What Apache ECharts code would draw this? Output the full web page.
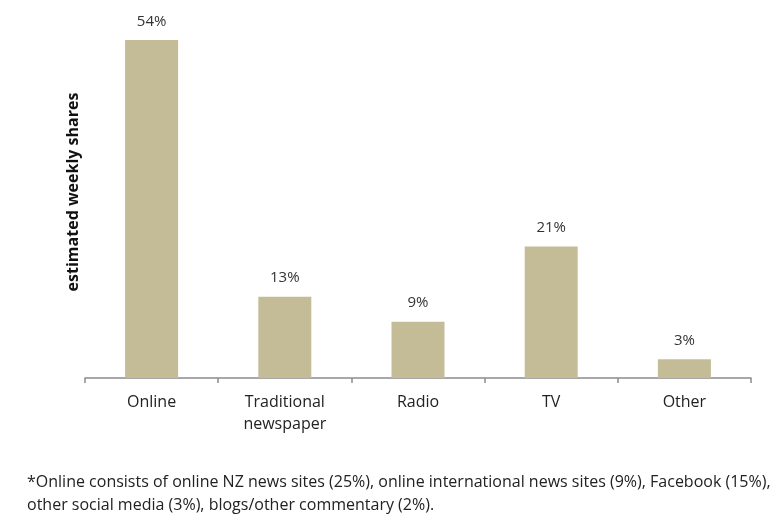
<!DOCTYPE html>
<html><head><meta charset="utf-8">
<script src="https://cdn.jsdelivr.net/npm/echarts@6/dist/echarts.min.js"></script>
<style>html,body{margin:0;padding:0;background:#fff}#c{width:783px;height:517px}</style>
</head><body><div id="c"></div>
<script>
const categories = ['Online', 'Traditional\nnewspaper', 'Radio', 'TV', 'Other'];
const shares = [54, 13, 9, 21, 3];
const yAxisTitle = 'estimated weekly shares';
const footnote = ['*Online consists of online NZ news sites (25%), online international news sites (9%), Facebook (15%),',
                  'other social media (3%), blogs/other commentary (2%).'];
const font = '"Open Sans", sans-serif';
const chart = echarts.init(document.getElementById('c'));
chart.setOption({
  animation: false,
  grid: {left: 85, right: 32, top: 40, bottom: 139},
  xAxis: {
    type: 'category', data: categories,
    axisLine: {lineStyle: {color: '#8c8c8c', width: 1.5}},
    axisTick: {show: true, length: 5, lineStyle: {color: '#8c8c8c', width: 1.5}},
    axisLabel: {color: '#222', fontFamily: font, fontSize: 16, margin: 13, lineHeight: 22}
  },
  yAxis: {type: 'value', min: 0, max: 54, show: false},
  series: [{
    type: 'bar', data: shares, barWidth: 53,
    itemStyle: {color: '#c4bc97'},
    label: {show: true, position: 'top', distance: 11, formatter: '{c}%', color: '#333', fontFamily: font, fontSize: 15}
  }],
  graphic: [
    {type: 'text', x: 73, y: 192, rotation: Math.PI/2, style: {text: yAxisTitle, font: 'bold 16px ' + font, fill: '#111', align: 'center', verticalAlign: 'middle'}},
    {type: 'text', x: 27, y: 482, style: {text: footnote[0], font: '16px ' + font, fill: '#222', verticalAlign: 'middle'}},
    {type: 'text', x: 27, y: 505, style: {text: footnote[1], font: '16px ' + font, fill: '#222', verticalAlign: 'middle'}}
  ]
});
</script></body></html>
